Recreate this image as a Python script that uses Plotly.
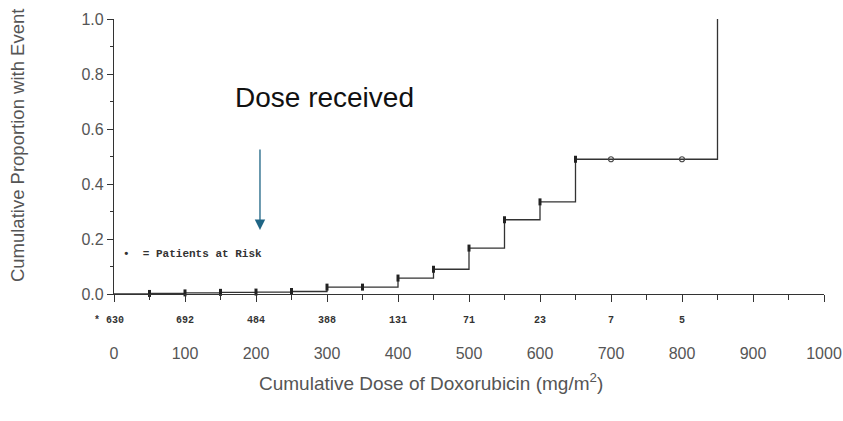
import plotly.graph_objects as go

# Step curve (cumulative proportion with event)
dose = [0, 50, 100, 150, 200, 250, 300, 350, 400, 450, 500, 550, 600, 650, 700, 800, 850]
prop = [0.0, 0.002, 0.004, 0.006, 0.007, 0.009, 0.025, 0.025, 0.058, 0.09, 0.167, 0.27, 0.335, 0.49, 0.49, 0.49, 1.0]

# filled markers (patients at risk points)
mark_dose = [50, 100, 150, 200, 250, 300, 350, 400, 450, 500, 550, 600, 650]
mark_prop = [0.002, 0.004, 0.006, 0.007, 0.009, 0.025, 0.025, 0.058, 0.09, 0.167, 0.27, 0.335, 0.49]
# open markers
open_dose = [700, 800]
open_prop = [0.49, 0.49]

# patients at risk numbers
risk_dose = [0, 100, 200, 300, 400, 500, 600, 700, 800]
risk_n = ["* 630", "692", "484", "388", "131", "71", "23", "7", "5"]

x_ticks = [0, 100, 200, 300, 400, 500, 600, 700, 800, 900, 1000]
y_ticks = [0.0, 0.2, 0.4, 0.6, 0.8, 1.0]

fig = go.Figure()
fig.add_trace(go.Scatter(x=dose, y=prop, mode="lines", line=dict(shape="hv", color="#333333", width=1.3),
                         cliponaxis=False, showlegend=False, hoverinfo="skip"))
fig.add_trace(go.Scatter(x=mark_dose, y=mark_prop, mode="markers",
                         marker=dict(symbol="line-ns", size=5, line=dict(color="#222222", width=3)),
                         cliponaxis=False, showlegend=False))
fig.add_trace(go.Scatter(x=open_dose, y=open_prop, mode="markers",
                         marker=dict(symbol="circle-open", size=5, color="#444444", line=dict(width=1.2)),
                         cliponaxis=False, showlegend=False))

for d, n in zip(risk_dose, risk_n):
    fig.add_annotation(x=d, y=-0.095, xref="x", yref="paper", text="<b>" + n + "</b>", showarrow=False,
                       xanchor="right" if n.startswith("*") else "center", yanchor="middle",
                       xshift=12 if n.startswith("*") else 0,
                       font=dict(family="Liberation Mono", size=10, color="#333333"))

fig.add_annotation(x=297, y=0.713, xref="x", yref="y", text="Dose received", showarrow=False,
                   font=dict(family="Liberation Sans", size=28, color="#111111"))
fig.add_annotation(x=205.6, y=0.233, xref="x", yref="y", text="", showarrow=True,
                   ax=0, ay=-82, axref="pixel", ayref="pixel",
                   arrowhead=2, arrowsize=1.6, arrowwidth=1.3, arrowcolor="#1f6585")
fig.add_annotation(x=10, y=0.145, xref="x", yref="y", text="<b>•  = Patients at Risk</b>", showarrow=False,
                   xanchor="left", font=dict(family="Liberation Mono", size=11, color="#333333"))
fig.add_annotation(x=0.446, y=-0.32, xref="paper", yref="paper", showarrow=False,
                   xanchor="center", yanchor="middle",
                   text="Cumulative Dose of Doxorubicin (mg/m<sup>2</sup>)",
                   font=dict(family="Liberation Sans", size=19, color="#555555"))
fig.add_annotation(x=-0.135, y=0.542, xref="paper", yref="paper", showarrow=False,
                   xanchor="center", yanchor="middle", textangle=-90,
                   text="Cumulative Proportion with Event",
                   font=dict(family="Liberation Sans", size=18.5, color="#555555"))

fig.update_layout(
    width=843, height=421,
    margin=dict(l=114, r=19, t=19, b=127, autoexpand=False),
    plot_bgcolor="white", paper_bgcolor="white",
    font=dict(family="Liberation Sans", color="#555555"),
    xaxis=dict(range=[0, 1000], tickvals=x_ticks, ticktext=[str(v) for v in x_ticks],
               ticks="outside", ticklen=7, tickcolor="#333333", tickwidth=1,
               minor=dict(dtick=50, ticks="outside", ticklen=5, tickcolor="#333333"),
               showline=True, linecolor="#333333", linewidth=1.3, showgrid=False, zeroline=False,
               tickfont=dict(size=16, color="#555555"), ticklabelstandoff=38, automargin=False),
    yaxis=dict(range=[0, 1], tickvals=y_ticks, ticktext=["%.1f" % v for v in y_ticks],
               ticks="outside", ticklen=6, tickcolor="#333333",
               minor=dict(dtick=0.1, ticks="outside", ticklen=3, tickcolor="#333333"),
               showline=True, linecolor="#333333", linewidth=1.3, showgrid=False, zeroline=False,
               tickfont=dict(size=16, color="#555555"), automargin=False),
)

fig.write_html("out.html")
